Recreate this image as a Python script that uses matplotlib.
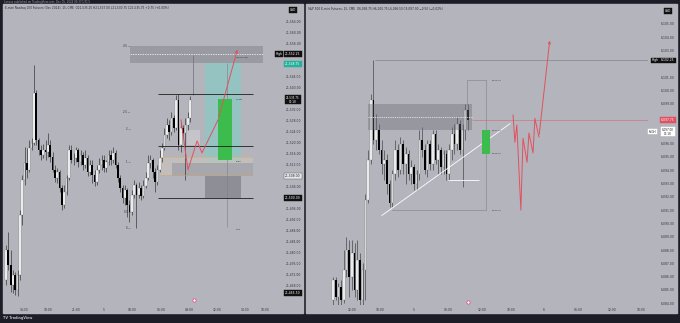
import matplotlib
matplotlib.use("Agg")
import matplotlib.pyplot as plt
import matplotlib.transforms as mtransforms
from matplotlib.patches import Rectangle
import numpy as np

# ---- E-mini Nasdaq 100, 15 min (left panel) ----
nq_open0 = 21470.25
nq_close = [21481.00, 21475.75, 21468.25, 21472.00, 21466.50, 21472.00, 21493.75, 21506.50,
            21512.75, 21510.25, 21518.25, 21520.00, 21538.25, 21521.00, 21517.50, 21515.75,
            21517.50, 21516.75, 21519.25, 21515.00, 21510.25, 21507.25, 21509.50, 21503.75,
            21497.50, 21502.25, 21507.25, 21517.50, 21513.75, 21514.50, 21517.50, 21513.00,
            21515.75, 21512.00, 21514.50, 21509.50, 21512.00, 21508.25, 21505.75, 21510.25,
            21512.00, 21513.75, 21511.00, 21513.00, 21515.75, 21513.75, 21516.25, 21512.00,
            21507.25, 21503.75, 21500.00, 21503.00, 21497.50, 21495.00, 21501.00, 21504.75,
            21501.00, 21503.75, 21500.75, 21504.25, 21507.25, 21512.75, 21513.75, 21509.50,
            21505.75, 21510.25, 21514.50, 21518.25, 21523.00, 21526.50, 21524.00, 21529.00,
            21525.50, 21535.75, 21519.25, 21525.50, 21523.75, 21526.50, 21529.00, 21535.75]
nq_high = [21483.00, 21487.50, 21481.00, 21473.75, 21473.00, 21473.75, 21495.50, 21508.25,
           21518.50, 21518.25, 21521.00, 21521.75, 21548.25, 21539.25, 21521.75, 21519.25,
           21519.75, 21521.00, 21523.75, 21521.00, 21516.75, 21512.00, 21511.00, 21510.25,
           21504.75, 21504.75, 21508.25, 21519.25, 21519.25, 21516.25, 21518.50, 21518.25,
           21517.50, 21516.75, 21517.50, 21515.75, 21513.75, 21513.75, 21510.25, 21512.00,
           21514.50, 21515.75, 21515.75, 21513.75, 21517.50, 21517.50, 21518.50, 21517.50,
           21513.00, 21508.25, 21504.75, 21504.75, 21503.75, 21499.25, 21503.00, 21506.50,
           21505.50, 21505.75, 21504.75, 21506.50, 21509.50, 21515.75, 21515.75, 21514.50,
           21511.00, 21512.00, 21517.50, 21520.00, 21525.50, 21529.00, 21528.25, 21531.25,
           21530.25, 21537.50, 21537.75, 21527.75, 21526.50, 21529.00, 21531.25, 21537.00]
nq_low = [21468.25, 21473.75, 21465.75, 21465.50, 21464.75, 21464.25, 21470.25, 21490.25,
          21504.75, 21507.25, 21509.50, 21517.50, 21519.25, 21519.25, 21515.75, 21513.75,
          21514.50, 21513.75, 21515.00, 21513.00, 21509.50, 21505.75, 21505.50, 21502.25,
          21495.50, 21496.25, 21501.00, 21506.50, 21512.75, 21512.00, 21513.00, 21511.25,
          21512.00, 21510.25, 21511.00, 21508.00, 21508.25, 21505.50, 21504.25, 21504.75,
          21509.00, 21510.25, 21509.50, 21509.50, 21512.00, 21512.00, 21512.75, 21511.00,
          21505.75, 21502.25, 21498.25, 21497.50, 21493.00, 21491.25, 21493.75, 21500.00,
          21489.00, 21500.00, 21499.25, 21500.00, 21503.75, 21506.50, 21511.00, 21507.25,
          21502.25, 21504.75, 21509.50, 21513.00, 21517.50, 21521.75, 21521.00, 21523.00,
          21524.00, 21524.75, 21517.50, 21516.75, 21521.75, 21506.50, 21524.75, 21527.75]
nq_time_pos = [7.7, 18.0, 30.0, 42.1, 54.1, 66.5, 78.5, 90.6, 102.6, 111.2]
nq_time_lbl = ["14:30", "18:00", "21:00", "5", "03:00", "06:00", "09:00", "12:00", "14:30", "18:00"]
nq_ticks = [21468, 21472, 21476, 21480, 21484, 21488, 21492, 21496, 21504, 21512, 21516,
            21520, 21524, 21528, 21532, 21540, 21544, 21556, 21560, 21564]

# ---- S&P 500 E-mini, 30 min (right panel) ----
es_open0 = 6084.25
es_close = [6085.75, 6084.50, 6085.25, 6084.25, 6086.50, 6088.00, 6086.00, 6087.75, 6085.00,
            6087.25, 6084.25, 6086.50, 6091.75, 6094.75, 6099.25, 6096.25, 6097.00, 6095.50,
            6094.50, 6094.75, 6093.00, 6091.50, 6093.75, 6095.50, 6094.00, 6096.00, 6094.50,
            6095.25, 6093.75, 6094.25, 6093.00, 6093.75, 6096.25, 6095.50, 6094.00, 6096.00,
            6094.50, 6096.75, 6094.75, 6095.50, 6094.25, 6095.25, 6093.75, 6095.50, 6096.75,
            6096.00, 6097.50, 6095.50, 6097.00, 6098.50, 6097.75]
es_high = [6086.00, 6086.00, 6085.50, 6085.75, 6088.00, 6089.00, 6088.75, 6088.75, 6088.50,
           6088.75, 6087.75, 6087.00, 6092.25, 6095.50, 6099.75, 6102.25, 6098.25, 6097.50,
           6096.25, 6095.50, 6095.25, 6093.25, 6094.00, 6096.25, 6096.00, 6096.50, 6096.25,
           6095.75, 6095.50, 6094.75, 6094.50, 6094.00, 6097.00, 6097.25, 6096.00, 6096.25,
           6096.25, 6097.00, 6097.00, 6096.00, 6095.75, 6095.50, 6095.50, 6096.00, 6097.25,
           6097.50, 6098.00, 6097.75, 6097.50, 6099.00, 6099.00]
es_low = [6083.75, 6084.25, 6083.75, 6083.75, 6084.00, 6086.00, 6084.50, 6085.00, 6084.50,
          6084.25, 6083.75, 6083.75, 6084.25, 6091.50, 6094.50, 6096.00, 6095.50, 6095.25,
          6093.75, 6093.25, 6092.25, 6091.25, 6091.25, 6093.25, 6093.50, 6093.75, 6093.75,
          6093.00, 6093.25, 6093.00, 6092.50, 6092.50, 6093.25, 6095.00, 6093.75, 6093.50,
          6094.00, 6094.00, 6094.50, 6093.75, 6093.75, 6093.75, 6093.25, 6093.25, 6094.75,
          6095.25, 6095.50, 6095.25, 6092.75, 6096.25, 6097.00]
es_time_pos = [7.0, 17.4, 30.0, 42.6, 55.2, 65.9, 78.1, 90.7, 103.3, 114.1]
es_time_lbl = ["12:00", "18:00", "5", "06:00", "12:00", "18:00", "6", "06:00", "12:00", "18:00"]
es_ticks = [6084, 6085, 6086, 6087, 6088, 6089, 6090, 6091, 6092, 6093, 6094, 6095, 6096,
            6099, 6100, 6101, 6103, 6104, 6105]

# drawings (bar index, price)
nq_top_box = [53.2, 110.3, 21549.0, 21555.25]
nq_levels = [21537.75, 21519.0, 21500.0]
nq_target = [85.4, 100.9, 21508.0, 21549.0]
nq_stop = [85.4, 100.9, 21500.0, 21508.0]
nq_green = [91.0, 97.0, 21513.75, 21536.0]
nq_fvg = [66.1, 106.0, 21508.25, 21515.0]
nq_fvg_in = [71.2, 106.0, 21508.0, 21512.75]
nq_small = [77.7, 83.3, 21519.25, 21524.75]
nq_path_x = [75.1, 78.1, 82.0, 84.1, 91.0, 99.6]
nq_path_y = [21528.4, 21510.25, 21520.75, 21516.4, 21528.4, 21554.9]
nq_fib_lbl = ["4.5", "2.5", "2", "1", "0.5", "0"]
nq_fib_y = [21555.25, 21531.25, 21525.0, 21513.0, 21495.0, 21489.0]

es_zone = [13.0, 51.5, 6097.0, 6099.0]
es_outline_x = [49.6, 49.6, 56.7, 56.7, 21.9]
es_outline_y = [6099.0, 6100.75, 6100.75, 6091.0, 6091.0]
es_green = [55.2, 58.1, 6095.25, 6097.0]
es_diag_x = [18.1, 65.6]
es_diag_y = [6090.6, 6097.5]
es_path_x = [66.7, 67.4, 68.1, 69.6, 70.4, 71.9, 72.6, 74.1, 74.8, 76.3, 80.4]
es_path_y = [6098.15, 6096.1, 6097.4, 6091.0, 6096.4, 6094.6, 6096.8, 6095.3, 6097.9, 6096.5, 6103.95]
es_box_lbl = ["6,100.75", "6,097.00", "6,095.25", "6,091.00"]
es_box_y = [6100.75, 6097.0, 6095.25, 6091.0]

bg = "#b4b4bc"
dark = "#1c1d27"
red = "#e0525f"

fig = plt.figure(figsize=(6.8, 3.23), dpi=100, facecolor=dark)

def px(x, y):
    return (x / 680, 1 - y / 323)

# panel backgrounds
for x0, x1 in [(3, 303), (306, 677)]:
    fig.patches.append(Rectangle(px(x0, 313), (x1 - x0) / 680, 309 / 323,
                                 transform=fig.transFigure, color=bg, zorder=-5))

axL = fig.add_axes([3 / 680, 18 / 323, 267 / 680, 300 / 323])
axR = fig.add_axes([306 / 680, 18 / 323, 342 / 680, 300 / 323])
axL.set_zorder(2)
axR.set_zorder(2)


def candles(ax, open0, close, high, low, w, wick):
    c = np.array(close)
    o = np.concatenate([[open0], c[:-1]])
    h = np.array(high)
    l = np.array(low)
    x = np.arange(len(c))
    up = c >= o
    ax.vlines(x, l, h, color=wick, lw=0.45, zorder=2)
    ax.bar(x[up], (c - o)[up], bottom=o[up], width=w, color="white",
           edgecolor="#444", linewidth=0.15, zorder=3)
    ax.bar(x[~up], (c - o)[~up], bottom=o[~up], width=w, color="black", zorder=3)


def box(ax, r, **kw):
    ax.add_patch(Rectangle((r[0], r[2]), r[1] - r[0], r[3] - r[2], **kw))


def setup(ax, xlim, ylim, ticks, tpos, tlbl, pad):
    ax.set_facecolor(bg)
    ax.set_xlim(*xlim)
    ax.set_ylim(*ylim)
    for s in ax.spines.values():
        s.set_visible(False)
    ax.yaxis.tick_right()
    ax.set_yticks(ticks)
    ax.set_yticklabels([f"{t:,.2f}" for t in ticks])
    ax.set_xticks(tpos)
    ax.set_xticklabels(tlbl)
    ax.tick_params(axis="y", length=0, labelsize=2.2, labelcolor="#33333d", pad=pad)
    ax.tick_params(axis="x", length=0, labelsize=2.2, labelcolor="#33333d", pad=2.5)


def tag(ax, xa, p, txt, fc, tc="white", ec=None, fs=2.2):
    tr = mtransforms.blended_transform_factory(ax.transAxes, ax.transData)
    ax.text(xa, p, txt, transform=tr, ha="center", va="center", fontsize=fs,
            color=tc, clip_on=False, zorder=10, linespacing=0.9,
            bbox=dict(boxstyle="square,pad=0.3", fc=fc, ec=ec if ec else fc, lw=0.3))


# ---------------- left panel ----------------
setup(axL, (-1.29, 113.3), (21461.09, 21570.18), nq_ticks, nq_time_pos, nq_time_lbl, 11.5)
box(axL, nq_top_box, fc="#9a9aa2", ec="none", zorder=1)
axL.hlines(21552.25, nq_top_box[0], nq_top_box[1], colors="white", lw=0.5, linestyles=(0, (2, 1.5)), zorder=2)
box(axL, nq_target, fc="#95c3c2", ec="none", zorder=1)
box(axL, nq_stop, fc="#8e8e96", ec="none", zorder=1)
box(axL, nq_fvg, fc="#c9c3bd", ec="none", alpha=0.7, zorder=1)
axL.hlines([nq_fvg[2], nq_fvg[3]], nq_fvg[0], nq_fvg[1], colors="#e3a556", lw=0.5,
           linestyles=(0, (1.5, 1)), zorder=4)
box(axL, nq_fvg_in, fc="#a2a2aa", ec="none", alpha=0.8, zorder=1)
box(axL, nq_small, fc="#c4c4ca", ec="none", zorder=1)
box(axL, nq_green, fc="#3cbc4c", ec="none", zorder=4)
axL.hlines(nq_levels, 65.2, 106.0, colors="#1e1e1e", lw=0.6, zorder=4)
axL.vlines(80.3, 21537.5, 21552.0, colors="#6e6e76", lw=0.5, zorder=2)
axL.vlines(94.8, 21489.5, 21549.0, colors="#7e7e86", lw=0.4, zorder=2)
for lb, yv in zip(nq_fib_lbl, nq_fib_y):
    axL.text(53.5, yv, lb + " —", fontsize=1.8, color="#2a2a30", ha="right", va="center", zorder=5)
candles(axL, nq_open0, nq_close, nq_high, nq_low, 0.72, "#2a2a2e")
axL.plot(nq_path_x[:-1], nq_path_y[:-1], color=red, lw=0.7, zorder=6)
axL.annotate("", xy=(nq_path_x[-1], nq_path_y[-1]), xytext=(nq_path_x[-2], nq_path_y[-2]),
             arrowprops=dict(arrowstyle="->", color=red, lw=0.7, mutation_scale=4), zorder=6)
axL.text(98.5, 21551.0, "swing high", fontsize=1.6, color="#333", zorder=5)
axL.text(98.5, 21535.5, "Target", fontsize=1.6, color="#333", zorder=5)
axL.text(98.5, 21513.0, "Entry", fontsize=1.6, color="#333", zorder=5)
axL.text(98.5, 21488.5, "Stop", fontsize=1.6, color="#333", zorder=5)
axL.plot(80.7, 21462.8, "o", ms=2.4, mfc="white", mec="#e0508e", mew=0.6, clip_on=False, zorder=7)

cL = 1.086
tag(axL, 1.034, 21552.25, "High", "#111")
tag(axL, cL, 21552.25, "21,552.25", "#111")
tag(axL, cL, 21548.75, "21,548.75", "#22b39a")
tag(axL, cL, 21535.75, "21,535.75\n07:18", "#111", fs=2.0)
tag(axL, cL, 21508.0, "21,508.00", "#e4e4ea", tc="#222", ec="#555")
tag(axL, cL, 21500.0, "21,500.00", "#111")
tag(axL, cL, 21465.5, "21,465.50", "#111")
tag(axL, cL, 21568.5, "USD", "#111")

# ---------------- right panel ----------------
setup(axR, (-10.0, 116.7), (6083.87, 6106.42), es_ticks, es_time_pos, es_time_lbl, 9.4)
axR.hlines(6102.25, 15.5, 116.7, colors="#7d7d86", lw=0.45, zorder=1)
axR.hlines(6097.75, 51.5, 116.7, colors=red, lw=0.4, alpha=0.8, zorder=1)
candles(axR, es_open0, es_close, es_high, es_low, 0.6, "#3a3a40")
box(axR, es_zone, fc="#6c6c76", ec="none", alpha=0.4, zorder=4)
axR.hlines(6098.0, es_zone[0], es_zone[1], colors="white", lw=0.45, linestyles=(0, (2, 1.5)), zorder=5)
axR.plot(es_outline_x, es_outline_y, color="#85858d", lw=0.45, zorder=2)
axR.hlines(6093.25, 42.6, 54.1, colors="white", lw=0.6, zorder=5)
axR.plot(es_diag_x, es_diag_y, color="white", lw=0.6, zorder=5)
box(axR, es_green, fc="#3cbc4c", ec="none", zorder=5)
for lb, yv in zip(es_box_lbl, es_box_y):
    axR.text(58.8, yv, lb, fontsize=1.6, color="#333", va="center", zorder=5)
axR.plot(es_path_x[:-1], es_path_y[:-1], color=red, lw=0.7, zorder=6)
axR.annotate("", xy=(es_path_x[-1], es_path_y[-1]), xytext=(es_path_x[-2], es_path_y[-2]),
             arrowprops=dict(arrowstyle="->", color=red, lw=0.7, mutation_scale=4), zorder=6)
axR.plot(50.0, 6084.1, "o", ms=2.4, mfc="white", mec="#e0508e", mew=0.6, clip_on=False, zorder=7)

cR = 1.0585
tag(axR, 1.021, 6102.25, "High", "#111")
tag(axR, cR, 6102.25, "6,102.25", "#111")
tag(axR, cR, 6097.75, "6,097.75", red)
tag(axR, 1.012, 6096.9, "FVGH", "white", tc="#222", fs=2.0)
tag(axR, cR, 6096.9, "6,097.00\n07:18", "white", tc="#222", fs=2.0)
tag(axR, cR, 6105.95, "USD", "#111")

# header / footer text
fig.text(*px(4, 2.2), "Lanxvs published on TradingView.com, Dec 05, 2024 09:37 UTC-5",
         fontsize=1.9, color="#9a9aa8", va="center")
fig.text(*px(5, 8.5), "E-mini Nasdaq 100 Futures (Dec 2024), 15, CME  O21,535.25 H21,537.00 "
         "L21,530.75 C21,535.75 +0.75 (+0.00%)", fontsize=2.1, color="#26262e", va="center",
         zorder=5)
fig.text(*px(308, 8.5), "S&P 500 E-mini Futures, 15, CME  O6,098.75 H6,100.75 L6,096.50 "
         "C6,097.00 \u22120.50 (\u22120.02%)", fontsize=2.1, color="#26262e", va="center",
         zorder=5)
fig.text(*px(3, 318), "TV TradingView", fontsize=2.4, color="#b8b8c4", va="center",
         fontweight="bold")

fig.savefig("out.png", dpi=100, facecolor=dark)
